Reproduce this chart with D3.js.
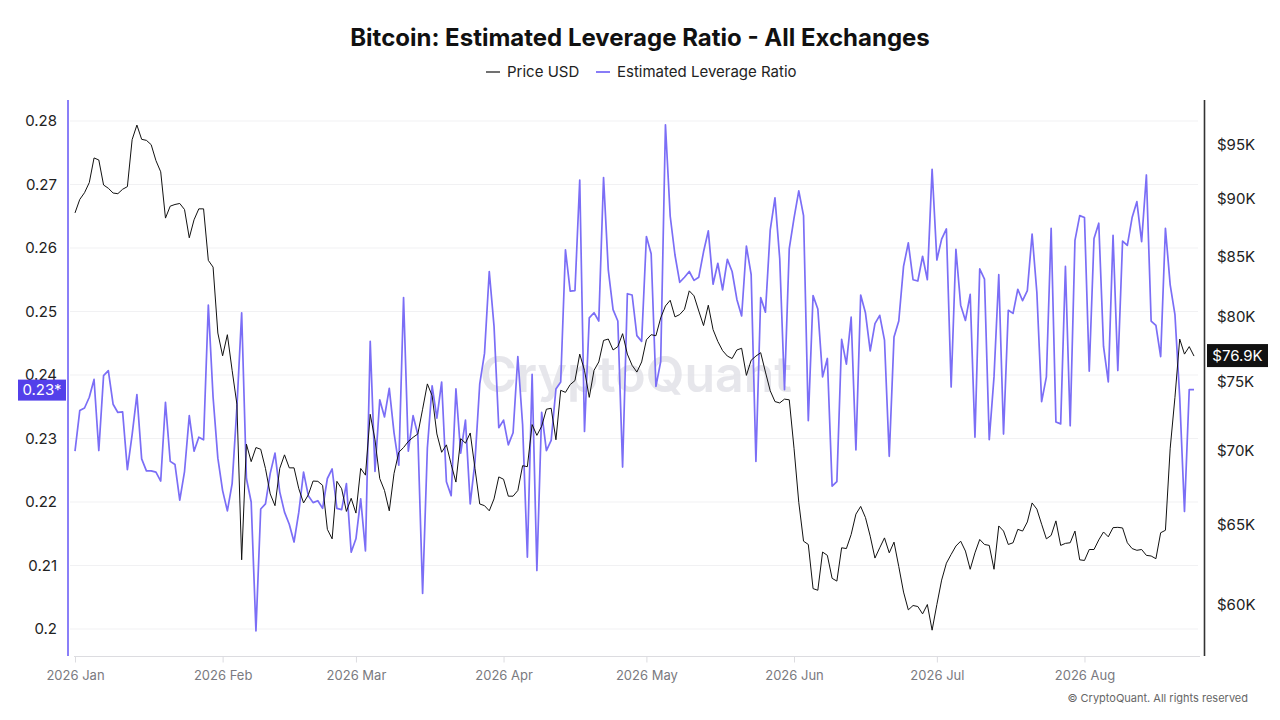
<!DOCTYPE html>
<html>
<head>
<meta charset="utf-8">
<script src="https://cdn.jsdelivr.net/npm/d3@7"></script>
<style>
  body { margin: 0; background: #fff; font-family: Inter, "Noto Sans", sans-serif; }
</style>
</head>
<body>
<svg width="1280" height="720"></svg>
<script>
// daily series, starting 2026-01-01
var startDate = new Date(2026, 0, 1);

var leverage = [
  0.2280, 0.2344, 0.2348, 0.2365, 0.2393, 0.2281, 0.2399, 0.2407, 0.2354, 0.2341,
  0.2342, 0.2251, 0.2306, 0.2369, 0.2268, 0.2249, 0.2249, 0.2247, 0.2233, 0.2357,
  0.2264, 0.2259, 0.2203, 0.2248, 0.2336, 0.2280, 0.2302, 0.2298, 0.2510, 0.2365,
  0.2269, 0.2218, 0.2186, 0.2229, 0.2349, 0.2498, 0.2237, 0.2200, 0.1997, 0.2189,
  0.2197, 0.2245, 0.2277, 0.2216, 0.2184, 0.2165, 0.2137, 0.2184, 0.2247, 0.2210,
  0.2199, 0.2202, 0.2190, 0.2237, 0.2252, 0.2190, 0.2188, 0.2229, 0.2121, 0.2142,
  0.2205, 0.2123, 0.2453, 0.2248, 0.2361, 0.2334, 0.2379, 0.2309, 0.2258, 0.2522,
  0.2280, 0.2336, 0.2306, 0.2056, 0.2285, 0.2383, 0.2332, 0.2389, 0.2232, 0.2210,
  0.2378, 0.2277, 0.2329, 0.2197, 0.2264, 0.2386, 0.2434, 0.2563, 0.2477, 0.2317,
  0.2329, 0.2290, 0.2309, 0.2429, 0.2322, 0.2113, 0.2401, 0.2092, 0.2341, 0.2281,
  0.2297, 0.2378, 0.2389, 0.2597, 0.2532, 0.2533, 0.2707, 0.2311, 0.2490, 0.2498,
  0.2485, 0.2711, 0.2565, 0.2503, 0.2485, 0.2255, 0.2528, 0.2526, 0.2462, 0.2453,
  0.2618, 0.2591, 0.2382, 0.2421, 0.2794, 0.2650, 0.2589, 0.2546, 0.2554, 0.2563,
  0.2549, 0.2554, 0.2594, 0.2627, 0.2543, 0.2576, 0.2534, 0.2582, 0.2563, 0.2519,
  0.2493, 0.2603, 0.2558, 0.2264, 0.2522, 0.2499, 0.2628, 0.2679, 0.2583, 0.2377,
  0.2599, 0.2647, 0.2690, 0.2651, 0.2328, 0.2525, 0.2504, 0.2397, 0.2426, 0.2225,
  0.2232, 0.2456, 0.2417, 0.2491, 0.2282, 0.2526, 0.2498, 0.2438, 0.2481, 0.2494,
  0.2455, 0.2272, 0.2460, 0.2485, 0.2571, 0.2608, 0.2550, 0.2548, 0.2587, 0.2550,
  0.2724, 0.2581, 0.2614, 0.2630, 0.2381, 0.2598, 0.2510, 0.2486, 0.2527, 0.2302,
  0.2567, 0.2551, 0.2298, 0.2397, 0.2558, 0.2307, 0.2502, 0.2497, 0.2535, 0.2517,
  0.2533, 0.2622, 0.2530, 0.2358, 0.2397, 0.2631, 0.2326, 0.2323, 0.2571, 0.2320,
  0.2612, 0.2651, 0.2648, 0.2406, 0.2615, 0.2639, 0.2445, 0.2389, 0.2620, 0.2407,
  0.2611, 0.2604, 0.2648, 0.2673, 0.2610, 0.2715, 0.2485, 0.2478, 0.2429, 0.2631,
  0.2542, 0.2495, 0.2365, 0.2185, 0.2377, 0.2377
];

// BTC price, thousands of USD
var priceK = [
  88.77, 89.97, 90.58, 91.50, 93.78, 93.59, 91.28, 90.98, 90.55, 90.49,
  90.89, 91.13, 95.51, 96.91, 95.54, 95.44, 95.03, 93.53, 92.49, 88.31,
  89.37, 89.52, 89.61, 89.07, 86.59, 88.16, 89.13, 89.13, 84.66, 84.09,
  78.73, 76.96, 78.60, 75.85, 73.33, 62.77, 70.46, 69.24, 70.22, 70.10,
  68.77, 67.04, 66.26, 68.77, 69.71, 68.81, 68.81, 67.39, 66.44, 66.98,
  67.91, 67.89, 67.62, 64.71, 64.10, 67.89, 67.39, 65.88, 66.75, 65.77,
  68.77, 68.31, 72.59, 70.77, 68.08, 67.27, 65.92, 68.43, 69.89, 70.22,
  70.65, 70.94, 71.18, 72.96, 74.83, 73.95, 71.18, 69.89, 70.41, 69.05,
  67.84, 70.85, 70.53, 71.25, 68.77, 66.37, 66.26, 65.92, 66.71, 68.19,
  68.03, 66.89, 66.89, 67.27, 68.96, 68.89, 71.85, 71.08, 71.73, 72.96,
  73.03, 70.77, 74.35, 74.20, 74.78, 75.08, 77.09, 75.85, 73.83, 75.85,
  76.49, 78.15, 78.26, 77.41, 77.67, 78.68, 77.09, 76.23, 75.72, 76.49,
  78.20, 78.60, 78.52, 79.93, 80.89, 81.35, 80.01, 80.20, 80.62, 82.12,
  81.71, 80.48, 79.32, 80.95, 79.00, 78.07, 77.36, 76.94, 76.75, 77.41,
  77.54, 75.47, 76.62, 76.94, 77.20, 75.72, 74.32, 73.52, 73.42, 73.70,
  73.65, 70.17, 66.48, 63.95, 63.74, 60.99, 60.89, 63.26, 63.05, 61.62,
  61.45, 63.53, 63.48, 64.38, 65.70, 66.21, 65.48, 64.27, 62.88, 63.53,
  64.16, 63.21, 63.89, 62.35, 60.78, 59.71, 59.97, 59.91, 59.47, 60.03,
  58.51, 60.03, 61.51, 62.56, 63.11, 63.64, 63.95, 63.32, 62.18, 63.21,
  64.06, 63.74, 63.68, 62.18, 64.93, 64.60, 63.74, 63.85, 64.71, 64.60,
  65.19, 66.44, 66.03, 65.04, 64.10, 64.32, 65.26, 63.68, 63.81, 63.85,
  64.60, 62.77, 62.73, 63.42, 63.42, 64.03, 64.54, 64.23, 64.82, 64.84,
  64.80, 63.85, 63.48, 63.37, 63.42, 63.05, 63.01, 62.84, 64.49, 64.65,
  70.17, 73.83, 78.26, 77.09, 77.67, 76.94
];

var leftTicks = [0.2, 0.21, 0.22, 0.23, 0.24, 0.25, 0.26, 0.27, 0.28];
var rightTicks = [60, 65, 70, 75, 80, 85, 90, 95];
var seriesNames = ["Price USD", "Estimated Leverage Ratio"];
var levBadgeText = "0.23*";
var priceBadgeText = "$76.9K";

var purple = "#7b6ef6";
var dates = leverage.map((v, i) => d3.timeDay.offset(startDate, i));

var svg = d3.select("svg");

var xScale = d3.scaleTime()
  .domain([dates[0], dates[dates.length - 1]])
  .range([75, 1194]);
var yLev = d3.scaleLinear().domain([0.2, 0.28]).range([629, 121]);
var yPrice = d3.scaleLog().domain([60, 95]).range([605, 145]);

// gridlines
svg.append("g")
  .selectAll("line")
  .data(leftTicks)
  .enter()
  .append("line")
  .attr("x1", 70)
  .attr("x2", 1198)
  .attr("y1", (d) => yLev(d))
  .attr("y2", (d) => yLev(d))
  .attr("stroke", "#f1f1f3");

// watermark
svg.append("text")
  .attr("x", 636)
  .attr("y", 392)
  .style("text-anchor", "middle")
  .style("font-size", "50px")
  .style("font-weight", 600)
  .style("fill", "#e2e2e8")
  .style("opacity", 0.85)
  .text("CryptoQuant");

// x axis
var xAxis = d3.axisBottom(xScale)
  .ticks(d3.timeMonth.every(1))
  .tickFormat(d3.timeFormat("%Y %b"))
  .tickSize(6)
  .tickSizeOuter(0);
var gx = svg.append("g")
  .attr("transform", "translate(0, 656.5)")
  .call(xAxis);
gx.select(".domain").attr("stroke", "#dcdce0").attr("d", "M74,0H1200");
gx.selectAll(".tick line").attr("stroke", "#dcdce0");
gx.selectAll(".tick text")
  .attr("y", 14)
  .attr("dy", "0.71em")
  .style("font-size", "13px")
  .style("font-family", "Inter, sans-serif")
  .style("fill", "#7a7a80");

// left axis
var gl = svg.append("g")
  .attr("transform", "translate(68, 0)")
  .call(d3.axisLeft(yLev).tickValues(leftTicks).tickFormat((d) => String(d)).tickSize(0).tickPadding(11));
gl.select(".domain").remove();
gl.selectAll(".tick text")
  .style("font-size", "15px")
  .style("font-family", "Inter, sans-serif")
  .style("fill", "#222");
svg.append("line")
  .attr("x1", 68).attr("x2", 68)
  .attr("y1", 100).attr("y2", 656)
  .attr("stroke", "#8a7ff8")
  .attr("stroke-width", 2);

// right axis
var gr = svg.append("g")
  .attr("transform", "translate(1204, 0)")
  .call(d3.axisRight(yPrice).tickValues(rightTicks).tickFormat((d) => "$" + d + "K").tickSize(0).tickPadding(13));
gr.select(".domain").remove();
gr.selectAll(".tick text")
  .style("font-size", "15px")
  .style("font-family", "Inter, sans-serif")
  .style("fill", "#222");
svg.append("line")
  .attr("x1", 1204.5).attr("x2", 1204.5)
  .attr("y1", 100).attr("y2", 656)
  .attr("stroke", "#333")
  .attr("stroke-width", 1.6);

// lines
var levLine = d3.line()
  .x((d, i) => xScale(dates[i]))
  .y((d) => yLev(d));
var priceLine = d3.line()
  .x((d, i) => xScale(dates[i]))
  .y((d) => yPrice(d));

svg.append("path")
  .datum(leverage)
  .attr("d", levLine)
  .attr("fill", "none")
  .attr("stroke", purple)
  .attr("stroke-width", 1.7)
  .attr("stroke-linejoin", "round");

svg.append("path")
  .datum(priceK)
  .attr("d", priceLine)
  .attr("fill", "none")
  .attr("stroke", "#111")
  .attr("stroke-width", 1)
  .attr("stroke-linejoin", "round");

// current value badges
var ly = yLev(leverage[leverage.length - 1]);
svg.append("rect")
  .attr("x", 18).attr("y", ly - 10)
  .attr("width", 48).attr("height", 21)
  .attr("fill", "#5340ea");
svg.append("text")
  .attr("x", 42).attr("y", ly + 0.5)
  .attr("dy", "0.35em")
  .style("text-anchor", "middle")
  .style("font-size", "15px")
  .style("fill", "#fff")
  .text(levBadgeText);

var py = yPrice(priceK[priceK.length - 1]);
svg.append("rect")
  .attr("x", 1207).attr("y", py - 12)
  .attr("width", 61).attr("height", 23)
  .attr("fill", "#111");
svg.append("text")
  .attr("x", 1237.5).attr("y", py)
  .attr("dy", "0.35em")
  .style("text-anchor", "middle")
  .style("font-size", "15px")
  .style("fill", "#fff")
  .text(priceBadgeText);

// title
svg.append("text")
  .attr("x", 640)
  .attr("y", 46)
  .style("text-anchor", "middle")
  .style("font-size", "24px")
  .style("font-weight", 700)
  .style("fill", "#111")
  .text("Bitcoin: Estimated Leverage Ratio - All Exchanges");

// legend
var legendColors = ["#111", purple];
var legendX = [486, 596];
var lg = svg.append("g");
seriesNames.forEach(function (name, i) {
  lg.append("line")
    .attr("x1", legendX[i]).attr("x2", legendX[i] + 14)
    .attr("y1", 72).attr("y2", 72)
    .attr("stroke", legendColors[i])
    .attr("stroke-width", i === 0 ? 1.2 : 1.8);
  lg.append("text")
    .attr("x", legendX[i] + 21)
    .attr("y", 72)
    .attr("dy", "0.35em")
    .style("font-size", "15px")
    .style("fill", "#222")
    .text(name);
});

// footer
svg.append("text")
  .attr("x", 1248)
  .attr("y", 702)
  .style("text-anchor", "end")
  .style("font-size", "11px")
  .style("fill", "#666")
  .text("© CryptoQuant. All rights reserved");
</script>
</body>
</html>
